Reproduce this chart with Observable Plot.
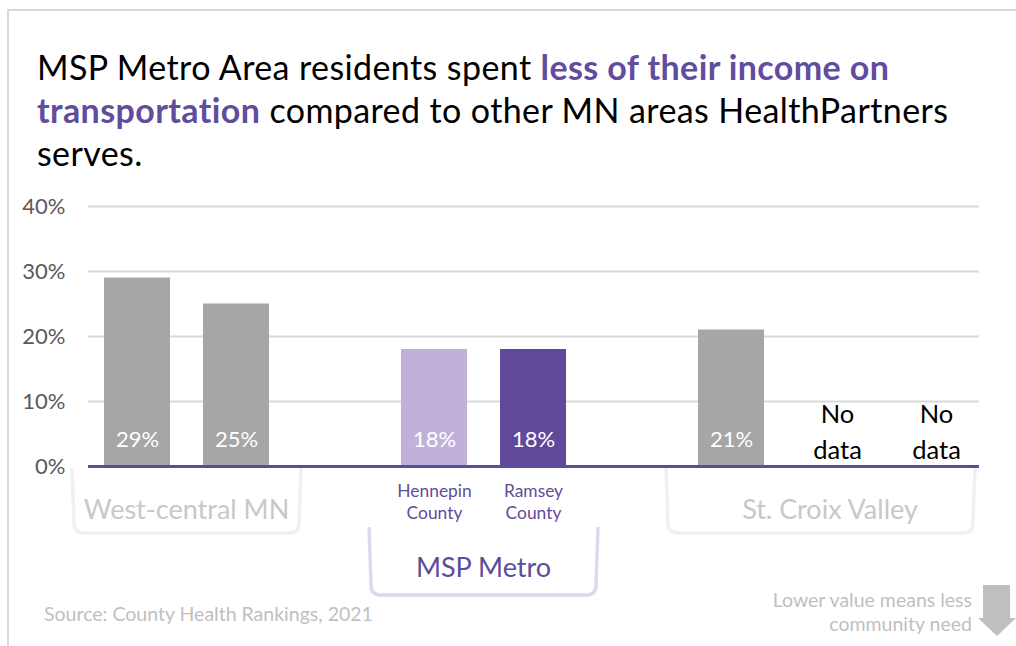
<!DOCTYPE html>
<html><head><meta charset="utf-8">
<script src="https://cdn.jsdelivr.net/npm/d3@7"></script>
<script src="https://cdn.jsdelivr.net/npm/@observablehq/plot@0.6"></script>
<style>
body{margin:0;background:#fff;font-family:Lato,sans-serif;}
#wrap{position:relative;width:1016px;height:646px;overflow:hidden;background:#fff;}
#frame{position:absolute;left:7px;top:9px;width:1100px;height:700px;border-left:2px solid #d9d9d9;border-top:2px solid #d9d9d9;}
#title{position:absolute;left:37px;top:45px;font-size:34px;letter-spacing:0.4px;line-height:43px;color:#000;white-space:nowrap;}
#title b{color:#614c9e;font-weight:700;}
#chart{position:absolute;left:0;top:190px;}
#source{position:absolute;left:44px;top:604px;font-size:19.5px;line-height:19.5px;color:#bfbfbf;}
#note{position:absolute;right:44px;top:588px;font-size:19.5px;line-height:24px;color:#bfbfbf;text-align:right;}
#arrow{position:absolute;left:976px;top:584px;}
</style></head>
<body>
<div id="wrap">
  <div id="frame"></div>
  <div id="title">MSP Metro Area residents spent <b>less of their income on</b><br><b>transportation</b> compared to other MN areas HealthPartners<br>serves.</div>
  <div id="chart"></div>
  <div id="source">Source: County Health Rankings, 2021</div>
  <div id="note">Lower value means less<br>community need</div>
  <svg id="arrow" width="40" height="54"><polygon points="7,1 34,1 34,34 40,34 21,52 2,34 7,34" fill="#bfbfbf"/></svg>
</div>
<script>
// Data
const categories = ["WC1", "WC2", "gap1", "Hennepin County", "Ramsey County", "gap2", "SC1", "SC2", "SC3"];
const values = [29, 25, null, 18, 18, null, 21, null, null];
const barColors = ["#a6a6a6", "#a6a6a6", null, "#bfb1d9", "#60489b", null, "#a6a6a6", null, null];
const noDataCats = ["SC2", "SC3"];
const tickLabels = ["", "", "", "Hennepin\nCounty", "Ramsey\nCounty", "", "", "", ""];
const yTicks = [0, 10, 20, 30, 40];
const groupNames = ["West-central MN", "MSP Metro", "St. Croix Valley"];
const groupFirst = ["WC1", "Hennepin County", "SC1"];
const groupLast = ["WC2", "Ramsey County", "SC3"];
const groupHighlight = [false, true, false];

const rows = categories.map((c, i) => ({cat: c, value: values[i], color: barColors[i], tick: tickLabels[i]}));
const withValue = rows.filter(d => d.value != null);
const noData = rows.filter(d => noDataCats.includes(d.cat));
const ticked = rows.filter(d => d.tick);

const W = 1016, H = 456, mL = 88, mR = 37, mT = 16, mB = 180;
const purple = "#5f4b9b";

const plot = Plot.plot({
  width: W, height: H,
  marginLeft: mL, marginRight: mR, marginTop: mT, marginBottom: mB,
  style: {fontFamily: "Lato, sans-serif", background: "transparent", overflow: "visible"},
  x: {domain: categories, paddingInner: 0.33, paddingOuter: 0.165, axis: null},
  y: {domain: [0, 40], axis: null},
  color: {type: "identity"},
  marks: [
    Plot.gridY(yTicks.filter(t => t > 0), {stroke: "#d9d9d9", strokeOpacity: 1, strokeWidth: 2}),
    Plot.axisY(yTicks, {tickSize: 0, tickPadding: 23, tickFormat: d => d + "%", fontSize: 22, fill: "#595959", label: null}),
    Plot.barY(withValue, {x: "cat", y: "value", fill: "color"}),
    Plot.ruleY([0], {stroke: purple, strokeWidth: 3}),
    Plot.text(withValue, {x: "cat", y: 0, text: d => d.value + "%", fill: "white", fontSize: 22, dy: -27}),
    Plot.text(noData, {x: "cat", y: 0, text: () => "No\ndata", lineAnchor: "bottom", lineHeight: 1.38, fontSize: 25.5, fill: "#000", dy: -8, dx: 7}),
    Plot.text(ticked, {x: "cat", y: 0, text: "tick", lineAnchor: "top", lineHeight: 1.3, fontSize: 17.4, fill: purple, dy: 14})
  ]
});
document.getElementById("chart").appendChild(plot);

// Group brackets, positioned from the plot's own scales
const xs = plot.scale("x"), ys = plot.scale("y");
const y0 = ys.apply(0);
const svg = d3.select(plot);
const g = svg.append("g");
const rightLimit = W - mR - 4;
groupNames.forEach((name, i) => {
  const a = xs.apply(groupFirst[i]), b = xs.apply(groupLast[i]) + xs.bandwidth;
  const x1 = a - 32, x2 = Math.min(b + 32, rightLimit);
  const hi = groupHighlight[i];
  const top = hi ? y0 + 61 : y0 + 2;
  const bot = hi ? y0 + 129 : y0 + 67;
  const r = 10;
  g.append("path")
    .attr("d", `M${x1},${top} L${x1 + 2},${bot - r} Q${x1 + 2},${bot} ${x1 + 2 + r},${bot} L${x2 - 2 - r},${bot} Q${x2 - 2},${bot} ${x2 - 2},${bot - r} L${x2},${top}`)
    .attr("fill", "none")
    .attr("stroke", hi ? "#dcd8ee" : "#f0f0f0")
    .attr("stroke-width", 3.5);
  const cx = (xs.apply(groupFirst[i]) - xs.step * xs.paddingInner / 2 + xs.apply(groupLast[i]) + xs.bandwidth + xs.step * xs.paddingInner / 2) / 2;
  g.append("text")
    .attr("x", cx)
    .attr("y", hi ? y0 + 102 : y0 + 44)
    .attr("dy", "0.35em")
    .attr("text-anchor", "middle")
    .attr("font-size", 27)
    .attr("fill", hi ? purple : "#c8c8c8")
    .text(name);
});
</script>
</body></html>
